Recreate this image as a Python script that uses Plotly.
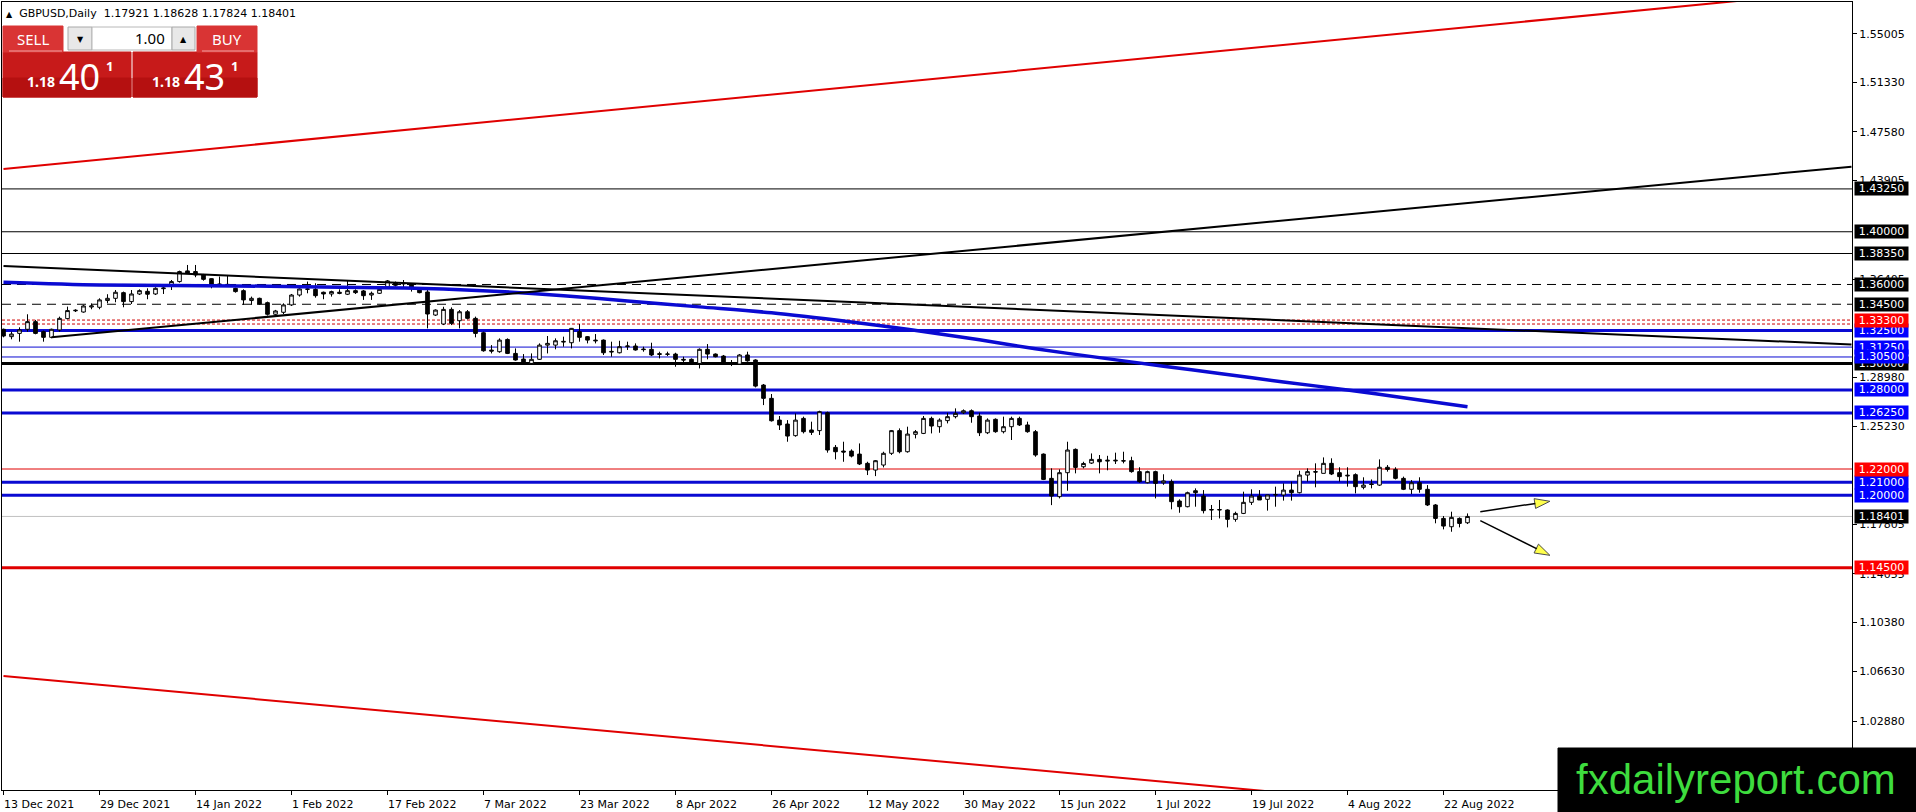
import plotly.graph_objects as go

# ---- values ----
date_labels = ["13 Dec 2021", "29 Dec 2021", "14 Jan 2022", "1 Feb 2022", "17 Feb 2022",
               "7 Mar 2022", "23 Mar 2022", "8 Apr 2022", "26 Apr 2022", "12 May 2022",
               "30 May 2022", "15 Jun 2022", "1 Jul 2022", "19 Jul 2022", "4 Aug 2022",
               "22 Aug 2022"]
date_bars = [0, 12, 24, 36, 48, 60, 72, 84, 96, 108, 120, 132, 144, 156, 168, 180]

price_ticks = [1.55005, 1.51330, 1.47580, 1.43905, 1.36405, 1.28980,
               1.25230, 1.17805, 1.14055, 1.10380, 1.06630, 1.02880]

opens = [1.3260, 1.3204, 1.3229, 1.3260, 1.3318, 1.3242, 1.3199, 1.3255, 1.3341, 1.3400,
         1.3391, 1.3429, 1.3427, 1.3478, 1.3495, 1.3538, 1.3470, 1.3528, 1.3548, 1.3528,
         1.3568, 1.3589, 1.3622, 1.3703, 1.3698, 1.3672, 1.3644, 1.3604, 1.3601, 1.3571,
         1.3553, 1.3478, 1.3495, 1.3462, 1.3374, 1.3389, 1.3445, 1.3520, 1.3563, 1.3563,
         1.3541, 1.3528, 1.3541, 1.3526, 1.3553, 1.3551, 1.3520, 1.3533, 1.3580, 1.3614,
         1.3604, 1.3596, 1.3563, 1.3543, 1.3368, 1.3300, 1.3411, 1.3325, 1.3393, 1.3343,
         1.3234, 1.3102, 1.3090, 1.3183, 1.3077, 1.3034, 1.3001, 1.3032, 1.3140, 1.3140,
         1.3163, 1.3158, 1.3242, 1.3204, 1.3178, 1.3178, 1.3087, 1.3082, 1.3128, 1.3133,
         1.3110, 1.3108, 1.3075, 1.3070, 1.3072, 1.3032, 1.3032, 1.3001, 1.3108, 1.3072,
         1.3057, 1.3006, 1.2996, 1.3065, 1.3027, 1.2837, 1.2736, 1.2571, 1.2541, 1.2453,
         1.2584, 1.2496, 1.2491, 1.2627, 1.2364, 1.2336, 1.2336, 1.2313, 1.2243, 1.2192,
         1.2230, 1.2319, 1.2491, 1.2331, 1.2463, 1.2470, 1.2584, 1.2521, 1.2567, 1.2597,
         1.2627, 1.2642, 1.2602, 1.2475, 1.2577, 1.2483, 1.2521, 1.2584, 1.2534, 1.2483,
         1.2313, 1.2129, 1.1990, 1.2172, 1.2349, 1.2217, 1.2245, 1.2273, 1.2260, 1.2261,
         1.2263, 1.2263, 1.2180, 1.2096, 1.2180, 1.2095, 1.2104, 1.1957, 1.1914, 1.2035,
         1.1995, 1.1889, 1.1889, 1.1889, 1.1818, 1.1863, 1.1947, 1.1995, 1.1970, 1.2003,
         1.2003, 1.2040, 1.2020, 1.2154, 1.2180, 1.2167, 1.2243, 1.2172, 1.2147, 1.2157,
         1.2061, 1.2086, 1.2078, 1.2213, 1.2197, 1.2129, 1.2046, 1.2096, 1.2046, 1.1927,
         1.1825, 1.1762, 1.1825, 1.17921]
highs = [1.3265, 1.3242, 1.3275, 1.3374, 1.3331, 1.3250, 1.3265, 1.3356, 1.3432, 1.3412,
         1.3445, 1.3457, 1.3495, 1.3526, 1.3558, 1.3546, 1.3558, 1.3563, 1.3571, 1.3579,
         1.3596, 1.3634, 1.3705, 1.3748, 1.3748, 1.3680, 1.3647, 1.3660, 1.3672, 1.3576,
         1.3563, 1.3508, 1.3500, 1.3470, 1.3407, 1.3457, 1.3528, 1.3571, 1.3622, 1.3609,
         1.3546, 1.3553, 1.3563, 1.3634, 1.3563, 1.3558, 1.3546, 1.3571, 1.3634, 1.3622,
         1.3634, 1.3609, 1.3571, 1.3558, 1.3411, 1.3431, 1.3426, 1.3406, 1.3406, 1.3356,
         1.3242, 1.3140, 1.3191, 1.3191, 1.3115, 1.3072, 1.3077, 1.3153, 1.3209, 1.3191,
         1.3204, 1.3270, 1.3300, 1.3209, 1.3224, 1.3183, 1.3166, 1.3173, 1.3166, 1.3153,
         1.3128, 1.3158, 1.3090, 1.3090, 1.3082, 1.3052, 1.3039, 1.3115, 1.3148, 1.3077,
         1.3065, 1.3027, 1.3072, 1.3090, 1.3032, 1.2845, 1.2769, 1.2602, 1.2571, 1.2622,
         1.2597, 1.2559, 1.2642, 1.2635, 1.2382, 1.2407, 1.2349, 1.2394, 1.2255, 1.2268,
         1.2331, 1.2496, 1.2508, 1.2521, 1.2496, 1.2602, 1.2597, 1.2584, 1.2627, 1.2660,
         1.2652, 1.2652, 1.2627, 1.2584, 1.2584, 1.2597, 1.2597, 1.2597, 1.2559, 1.2496,
         1.2318, 1.2205, 1.2197, 1.2407, 1.2356, 1.2255, 1.2318, 1.2306, 1.2300, 1.2324,
         1.2331, 1.2293, 1.2213, 1.2187, 1.2187, 1.2160, 1.2121, 1.1970, 1.2028, 1.2053,
         1.2040, 1.1927, 1.1965, 1.1894, 1.1876, 1.2028, 1.2046, 1.2040, 1.2003, 1.2066,
         1.2091, 1.2104, 1.2187, 1.2205, 1.2243, 1.2288, 1.2281, 1.2213, 1.2213, 1.2167,
         1.2137, 1.2121, 1.2273, 1.2230, 1.2213, 1.2142, 1.2116, 1.2137, 1.2078, 1.1934,
         1.1843, 1.1876, 1.1833, 1.18628]
lows = [1.3199, 1.3184, 1.3166, 1.3242, 1.3222, 1.3166, 1.3192, 1.3242, 1.3336, 1.3391,
        1.3386, 1.3412, 1.3412, 1.3457, 1.3465, 1.3427, 1.3452, 1.3520, 1.3488, 1.3520,
        1.3528, 1.3558, 1.3614, 1.3680, 1.3655, 1.3629, 1.3571, 1.3589, 1.3589, 1.3538,
        1.3445, 1.3445, 1.3445, 1.3364, 1.3364, 1.3376, 1.3437, 1.3508, 1.3533, 1.3500,
        1.3488, 1.3508, 1.3526, 1.3520, 1.3528, 1.3483, 1.3483, 1.3528, 1.3575, 1.3584,
        1.3579, 1.3546, 1.3533, 1.3267, 1.3361, 1.3292, 1.3292, 1.3267, 1.3335, 1.3199,
        1.3090, 1.3077, 1.3082, 1.3072, 1.3022, 1.2996, 1.2996, 1.3027, 1.3077, 1.3108,
        1.3128, 1.3115, 1.3166, 1.3153, 1.3153, 1.3065, 1.3052, 1.3077, 1.3103, 1.3098,
        1.3090, 1.3057, 1.3039, 1.3057, 1.2976, 1.2989, 1.2996, 1.2963, 1.3032, 1.3047,
        1.2989, 1.2981, 1.2989, 1.3014, 1.2819, 1.2685, 1.2560, 1.2496, 1.2407, 1.2445,
        1.2470, 1.2458, 1.2458, 1.2324, 1.2273, 1.2255, 1.2288, 1.2230, 1.2154, 1.2146,
        1.2212, 1.2306, 1.2319, 1.2324, 1.2432, 1.2465, 1.2470, 1.2475, 1.2546, 1.2584,
        1.2617, 1.2551, 1.2450, 1.2465, 1.2475, 1.2470, 1.2420, 1.2526, 1.2475, 1.2293,
        1.2116, 1.1926, 1.1977, 1.2035, 1.2167, 1.2205, 1.2238, 1.2167, 1.2190, 1.2238,
        1.2243, 1.2172, 1.2096, 1.2091, 1.1977, 1.2080, 1.1894, 1.1868, 1.1909, 1.1914,
        1.1863, 1.1813, 1.1825, 1.1757, 1.1800, 1.1858, 1.1927, 1.1965, 1.1884, 1.1914,
        1.1960, 1.1960, 1.2015, 1.2104, 1.2061, 1.2167, 1.2154, 1.2104, 1.2066, 1.2015,
        1.2046, 1.2053, 1.2071, 1.2180, 1.2121, 1.2040, 1.2010, 1.2020, 1.1919, 1.1788,
        1.1742, 1.1724, 1.1757, 1.17824]
closes = [1.3209, 1.3224, 1.3255, 1.3318, 1.3229, 1.3199, 1.3260, 1.3343, 1.3402, 1.3404,
          1.3437, 1.3437, 1.3483, 1.3495, 1.3541, 1.3470, 1.3528, 1.3553, 1.3526, 1.3571,
          1.3573, 1.3622, 1.3698, 1.3685, 1.3672, 1.3639, 1.3596, 1.3599, 1.3599, 1.3546,
          1.3483, 1.3495, 1.3452, 1.3374, 1.3399, 1.3445, 1.3520, 1.3566, 1.3566, 1.3515,
          1.3528, 1.3546, 1.3533, 1.3553, 1.3538, 1.3515, 1.3533, 1.3563, 1.3627, 1.3594,
          1.3609, 1.3576, 1.3538, 1.3376, 1.3406, 1.3411, 1.3305, 1.3393, 1.3343, 1.3229,
          1.3097, 1.3095, 1.3178, 1.3077, 1.3027, 1.3001, 1.3032, 1.3140, 1.3153, 1.3173,
          1.3168, 1.3267, 1.3199, 1.3178, 1.3173, 1.3082, 1.3092, 1.3128, 1.3133, 1.3103,
          1.3106, 1.3065, 1.3070, 1.3072, 1.3032, 1.3027, 1.3001, 1.3108, 1.3072, 1.3052,
          1.3001, 1.3001, 1.3065, 1.3021, 1.2829, 1.2736, 1.2566, 1.2534, 1.2450, 1.2571,
          1.2483, 1.2478, 1.2635, 1.2344, 1.2331, 1.2329, 1.2298, 1.2238, 1.2192, 1.2263,
          1.2319, 1.2491, 1.2331, 1.2465, 1.2483, 1.2584, 1.2526, 1.2571, 1.2597, 1.2622,
          1.2642, 1.2597, 1.2475, 1.2571, 1.2483, 1.2521, 1.2584, 1.2534, 1.2483, 1.2306,
          1.2121, 1.1995, 1.2172, 1.2344, 1.2212, 1.2242, 1.2273, 1.2255, 1.2266, 1.2266,
          1.2261, 1.2180, 1.2104, 1.2180, 1.2091, 1.2110, 1.1952, 1.1914, 1.2020, 1.2020,
          1.1884, 1.1892, 1.1892, 1.1818, 1.1863, 1.1947, 1.1995, 1.1965, 1.2003, 1.2006,
          1.2040, 1.2020, 1.2154, 1.2180, 1.2177, 1.2243, 1.2162, 1.2142, 1.2152, 1.2066,
          1.2078, 1.2083, 1.2213, 1.2197, 1.2129, 1.2046, 1.2096, 1.2046, 1.1927, 1.1825,
          1.1767, 1.1833, 1.1787, 1.18401]

# blue moving average, sampled at bar indices
ma_bars = [0, 12, 29, 47, 55, 62, 70, 78, 87, 96, 106, 113, 122, 129, 137, 145, 152,
           160, 168, 175, 183]
ma_vals = [1.3617, 1.3596, 1.3589, 1.3576, 1.3565, 1.3547, 1.3515, 1.3475, 1.3430, 1.3385,
           1.3315, 1.3260, 1.3180, 1.3112, 1.3045, 1.2980, 1.2925, 1.2860, 1.2800, 1.2740,
           1.2673]

# trend lines: (bar, price) end points
red_channel_top = ([0, 231], [1.4477, 1.5835])
red_channel_bottom = ([0, 160], [1.0629, 0.9744])
black_rising = ([6, 231], [1.3199, 1.4494])
black_falling = ([0, 231], [1.3740, 1.3145])
arrow_up = ([184.6, 193.3], [1.1876, 1.1955])
arrow_down = ([184.6, 193.3], [1.1808, 1.1545])

# horizontal levels
black_levels = [1.4325, 1.4000, 1.3835]
dash_levels = [1.3600, 1.3450]
red_dot_levels = [1.3330, 1.3300]
blue_thick_levels = [1.3250, 1.2800, 1.2625, 1.2100, 1.2000]
blue_thin_levels = [1.3125, 1.3050]
black_thick_levels = [1.3000]
red_thin_levels = [1.2200]
red_thick_levels = [1.1450]
bid_price = 1.18401

header = "GBPUSD,Daily  1.17921 1.18628 1.17824 1.18401"

# ---- page geometry (pixels) ----
W, H = 1916, 812
ML, MR, MT, MB = 2, 64, 2, 22
PW, PH = W - ML - MR, H - MT - MB


def fx(px):
    return (px - ML) / PW


def fy(py):
    return 1 - (py - MT) / PH


BLUE_LINE = "#0a0ad2"
RED = "#e00000"
TAHOMA = "DejaVu Sans"

fig = go.Figure()

fig.add_trace(go.Candlestick(
    x=list(range(len(opens))), open=opens, high=highs, low=lows, close=closes,
    increasing=dict(line=dict(color="black", width=1), fillcolor="white"),
    decreasing=dict(line=dict(color="black", width=1), fillcolor="black"),
    whiskerwidth=0, showlegend=False, hoverinfo="skip",
))

fig.add_trace(go.Scatter(x=ma_bars, y=ma_vals, mode="lines",
                         line=dict(color=BLUE_LINE, width=3.5, shape="spline", smoothing=0.8),
                         showlegend=False, hoverinfo="skip"))

for (xs, ys), col, w in [(red_channel_top, RED, 2), (red_channel_bottom, RED, 2),
                         (black_rising, "black", 2), (black_falling, "black", 2)]:
    fig.add_trace(go.Scatter(x=xs, y=ys, mode="lines", line=dict(color=col, width=w),
                             showlegend=False, hoverinfo="skip"))

for xs, ys in [arrow_up, arrow_down]:
    fig.add_trace(go.Scatter(
        x=xs, y=ys, mode="lines+markers", line=dict(color="black", width=1.5),
        marker=dict(symbol="arrow", size=[0, 16], angleref="previous", color="#ffff00",
                    line=dict(color="black", width=1)),
        showlegend=False, hoverinfo="skip"))

shapes = []


def hline(p, color, width, dash="solid"):
    shapes.append(dict(type="line", xref="paper", x0=0, x1=1, yref="y", y0=p, y1=p,
                       line=dict(color=color, width=width, dash=dash), layer="below"))


for p in black_levels:
    hline(p, "black", 1)
for p in dash_levels:
    hline(p, "black", 1, "9px,6px")
for p in red_dot_levels:
    hline(p, "#d00000", 1, "3px,2px")
for p in blue_thick_levels:
    hline(p, BLUE_LINE, 3)
for p in blue_thin_levels:
    hline(p, BLUE_LINE, 1)
for p in black_thick_levels:
    hline(p, "black", 3)
for p in red_thin_levels:
    hline(p, RED, 1)
for p in red_thick_levels:
    hline(p, RED, 3)
hline(bid_price, "#c0c0c0", 1)

annotations = []


def tag(p, bg):
    annotations.append(dict(xref="paper", x=1, xanchor="left", xshift=2, yref="y", y=p,
                            yanchor="middle", text=f"{p:.5f}", showarrow=False,
                            bgcolor=bg, width=53, height=13, borderpad=0,
                            font=dict(family=TAHOMA, size=11, color="white")))


for p in black_levels + dash_levels + black_thick_levels:
    tag(p, "black")
tag(bid_price, "black")
for p in blue_thick_levels + blue_thin_levels:
    tag(p, "#0000ff")
tag(red_dot_levels[0], "#ff0000")
for p in red_thin_levels + red_thick_levels:
    tag(p, "#ff0000")

# date labels sit to the right of their tick, MT4 style
for b, lab in zip(date_bars, date_labels):
    annotations.append(dict(xref="x", x=b, xanchor="left", xshift=-2, yref="paper",
                            y=fy(796), yanchor="top", text=lab, showarrow=False,
                            font=dict(family=TAHOMA, size=11, color="black")))

# header line
annotations.append(dict(xref="paper", x=fx(4), xanchor="left", yref="paper", y=fy(13),
                        yanchor="middle", showarrow=False,
                        text="<span style='font-size:8px'>▲</span>  " + header,
                        font=dict(family=TAHOMA, size=11, color="black")))


# one-click trading panel
def box(x0, y0, x1, y1, fill, line=None):
    shapes.append(dict(type="rect", xref="paper", yref="paper", x0=fx(x0), x1=fx(x1),
                       y0=fy(y1), y1=fy(y0), fillcolor=fill, layer="above",
                       line=dict(color=line or fill, width=1)))


def label(x, y, text, size, color="white", anchor="center", bold=False, family="Noto Sans"):
    annotations.append(dict(xref="paper", yref="paper", x=fx(x), y=fy(y), xanchor=anchor,
                            yanchor="middle", showarrow=False, text=f"<b>{text}</b>" if bold else text,
                            font=dict(family=family, size=size, color=color)))


box(3, 52, 131, 97, "#c71a1a")
box(3, 78, 131, 97, "#b51010")
box(133, 52, 257, 97, "#c71a1a")
box(133, 78, 257, 97, "#b51010")
box(3, 26, 63, 52, "#d93434")
box(197, 26, 257, 52, "#d93434")
shapes.append(dict(type="line", xref="paper", yref="paper", x0=fx(9), x1=fx(62), y0=fy(51), y1=fy(51),
                   line=dict(color="#f2a3a3", width=1), layer="above"))
shapes.append(dict(type="line", xref="paper", yref="paper", x0=fx(202), x1=fx(254), y0=fy(51), y1=fy(51),
                   line=dict(color="#f2a3a3", width=1), layer="above"))
box(68, 27, 92, 50, "#e8e8e8", "#a8a8a8")
box(92, 27, 172, 50, "white", "#b8b8b8")
box(172, 27, 195, 50, "#e8e8e8", "#a8a8a8")

label(33, 39, "SELL", 15)
label(227, 39, "BUY", 15)
label(80, 39, "▼", 8, "black", family=TAHOMA)
label(183.5, 39, "▲", 8, "black", family=TAHOMA)
label(167, 38, "1.00", 15, "black", anchor="right")
label(25, 82, "1.18", 14, bold=True, anchor="left")
label(57, 76, "40", 36, anchor="left")
label(104, 66, "1", 13, bold=True, anchor="left")
label(150, 82, "1.18", 14, bold=True, anchor="left")
label(182, 76, "43", 36, anchor="left")
label(229, 66, "1", 13, bold=True, anchor="left")

# watermark
box(1558, 748, 1920, 815, "black")
label(1736, 779, "fxdailyreport.com", 42, "#3edc3e", family="Liberation Sans")

fig.update_layout(
    width=W, height=H,
    margin=dict(l=ML, r=MR, t=MT, b=MB),
    paper_bgcolor="white", plot_bgcolor="white",
    shapes=shapes, annotations=annotations,
    boxgap=0.35,
    xaxis=dict(range=[(ML - 3.5) / 8, (ML + PW - 3.5) / 8], tickvals=date_bars,
               showticklabels=False, ticks="outside", ticklen=4, tickcolor="black",
               showline=True, linecolor="black", linewidth=1, mirror=True,
               showgrid=False, zeroline=False, rangeslider=dict(visible=False), fixedrange=True),
    yaxis=dict(side="right", range=[1.0288 - 69 / 1318, 1.0288 + 719 / 1318],
               tickvals=price_ticks, ticktext=[f"{v:.5f}" for v in price_ticks],
               ticks="outside", ticklen=4, tickcolor="black",
               tickfont=dict(family=TAHOMA, size=11, color="black"),
               showline=True, linecolor="black", linewidth=1, mirror=True,
               showgrid=False, zeroline=False, fixedrange=True),
)

fig.write_html("out.html", config=dict(displayModeBar=False),
               post_script="document.body.style.margin='0';document.body.style.overflow='hidden';")
